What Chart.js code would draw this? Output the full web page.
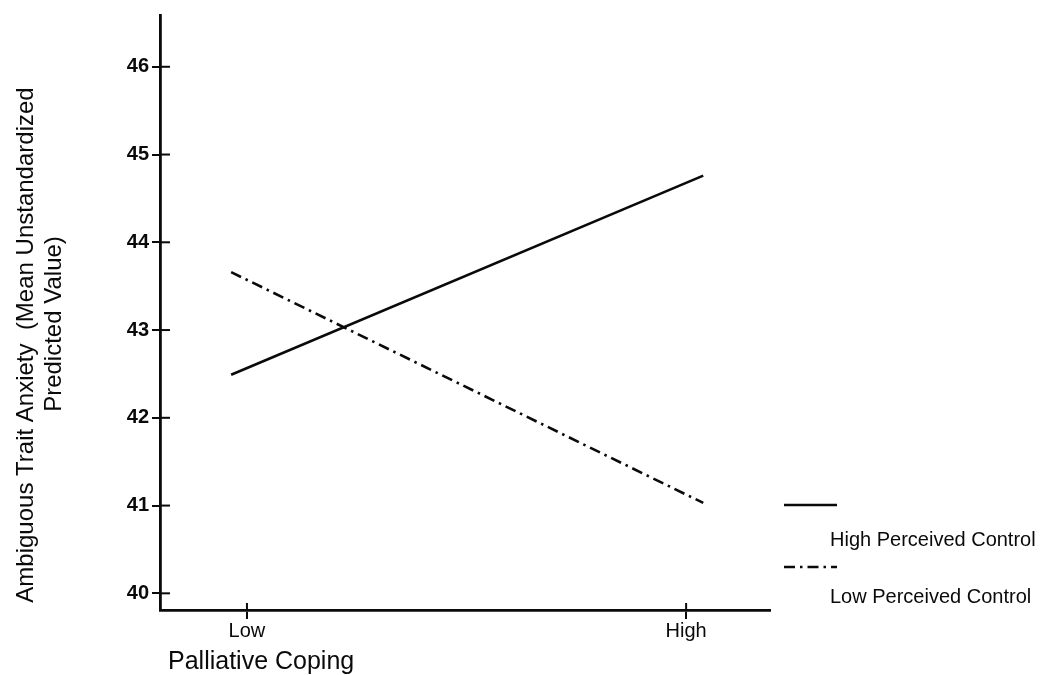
<!DOCTYPE html>
<html lang="en">
  <head>
    <meta charset="UTF-8" />
    <title>Palliative Coping x Perceived Control</title>
    <script src="https://cdn.jsdelivr.net/npm/chart.js"></script>
    <style>
      body {
        margin: 0;
        background: #ffffff;
      }
      canvas {
        display: block;
      }
    </style>
  </head>
  <body>
    <canvas id="copingChart" width="1048" height="675"></canvas>

    <script>
      // Data
      const xTickLabels = ["Low", "High"];
      const xTickValues = [0, 1];
      // lines run a little past the Low / High tick marks
      const lineX = [-0.036, 1.039];
      const highControl = [42.49, 44.76];
      const lowControl = [43.66, 41.03];
      const yTickValues = [40, 41, 42, 43, 44, 45, 46];
      const seriesNames = ["High Perceived Control", "Low Perceived Control"];
      const yTitleLines = [
        "Ambiguous Trait Anxiety  (Mean Unstandardized",
        "Predicted Value)",
      ];
      const xTitle = "Palliative Coping";

      const FONT = "'Liberation Sans', Arial, Helvetica, sans-serif";
      const INK = "#0a0a0a";

      function toPoints(values) {
        return values.map((v, i) => ({ x: lineX[i], y: v }));
      }

      // short tick halves inside the plot, like the hand-drawn axes
      const innerTicks = {
        id: "innerTicks",
        afterDraw(chart) {
          const ctx = chart.ctx;
          const area = chart.chartArea;
          const ys = chart.scales.y;
          const xs = chart.scales.x;
          ctx.save();
          ctx.strokeStyle = INK;
          ctx.lineWidth = 2;
          ys.ticks.forEach((t) => {
            const py = ys.getPixelForValue(t.value);
            ctx.beginPath();
            ctx.moveTo(area.left, py);
            ctx.lineTo(area.left + 10, py);
            ctx.stroke();
          });
          xs.ticks.forEach((t) => {
            const px = xs.getPixelForValue(t.value);
            ctx.beginPath();
            ctx.moveTo(px, area.bottom);
            ctx.lineTo(px, area.bottom - 7);
            ctx.stroke();
          });
          ctx.restore();
        },
      };

      // axis titles drawn by hand (two-line rotated y title, left-aligned x title)
      const axisTitles = {
        id: "axisTitles",
        afterDraw(chart) {
          const ctx = chart.ctx;
          ctx.save();
          ctx.fillStyle = INK;
          ctx.font = "24px " + FONT;
          ctx.textAlign = "center";
          ctx.textBaseline = "alphabetic";
          const spots = [
            { x: 33, y: 345 },
            { x: 61, y: 324 },
          ];
          yTitleLines.forEach((line, i) => {
            ctx.save();
            ctx.translate(spots[i].x, spots[i].y);
            ctx.rotate(-Math.PI / 2);
            ctx.fillText(line, 0, 0);
            ctx.restore();
          });
          ctx.font = "25px " + FONT;
          ctx.textAlign = "left";
          ctx.fillText(xTitle, 168, 669);
          ctx.restore();
        },
      };

      // legend: line sample above its label, at the right of the plot
      const sideLegend = {
        id: "sideLegend",
        afterDraw(chart) {
          const ctx = chart.ctx;
          const rows = [
            { lineY: 505, textY: 540 },
            { lineY: 567, textY: 597 },
          ];
          ctx.save();
          chart.data.datasets.forEach((ds, i) => {
            ctx.strokeStyle = ds.borderColor;
            ctx.lineWidth = ds.borderWidth;
            ctx.setLineDash(ds.borderDash || []);
            ctx.beginPath();
            ctx.moveTo(784, rows[i].lineY);
            ctx.lineTo(837, rows[i].lineY);
            ctx.stroke();
            ctx.setLineDash([]);
            ctx.fillStyle = INK;
            ctx.font = "20px " + FONT;
            ctx.textAlign = "left";
            ctx.textBaseline = "middle";
            ctx.fillText(ds.label, 830, rows[i].textY);
          });
          ctx.restore();
        },
      };

      new Chart(document.getElementById("copingChart"), {
        type: "line",
        data: {
          datasets: [
            {
              label: seriesNames[0],
              data: toPoints(highControl),
              borderColor: INK,
              borderWidth: 2.6,
              pointRadius: 0,
              fill: false,
            },
            {
              label: seriesNames[1],
              data: toPoints(lowControl),
              borderColor: INK,
              borderWidth: 2.6,
              borderDash: [11, 5, 2.5, 5],
              pointRadius: 0,
              fill: false,
            },
          ],
        },
        options: {
          responsive: false,
          animation: false,
          devicePixelRatio: 1,
          layout: {
            padding: { top: 13, right: 278, left: 0, bottom: 0 },
          },
          plugins: {
            legend: { display: false },
            tooltip: { enabled: false },
          },
          scales: {
            x: {
              type: "linear",
              min: -0.198,
              max: 1.191,
              afterBuildTicks: (scale) => {
                scale.ticks = xTickValues.map((v) => ({ value: v }));
              },
              afterFit: (scale) => {
                scale.height = 65;
              },
              ticks: {
                color: INK,
                font: { family: FONT, size: 20 },
                padding: 0,
                maxRotation: 0,
                callback: (value) => xTickLabels[xTickValues.indexOf(value)],
              },
              grid: {
                drawOnChartArea: false,
                drawTicks: true,
                tickLength: 9,
                color: INK,
                lineWidth: 2,
              },
              border: { display: true, color: INK, width: 2.8 },
            },
            y: {
              type: "linear",
              min: 39.81,
              max: 46.59,
              afterBuildTicks: (scale) => {
                scale.ticks = yTickValues.map((v) => ({ value: v }));
              },
              afterFit: (scale) => {
                scale.width = 160;
              },
              ticks: {
                color: INK,
                font: { family: FONT, size: 20, weight: "bold" },
                padding: 3,
              },
              grid: {
                drawOnChartArea: false,
                drawTicks: true,
                tickLength: 8,
                color: INK,
                lineWidth: 2,
              },
              border: { display: true, color: INK, width: 2.8 },
            },
          },
        },
        plugins: [innerTicks, axisTitles, sideLegend],
      });
    </script>
  </body>
</html>
